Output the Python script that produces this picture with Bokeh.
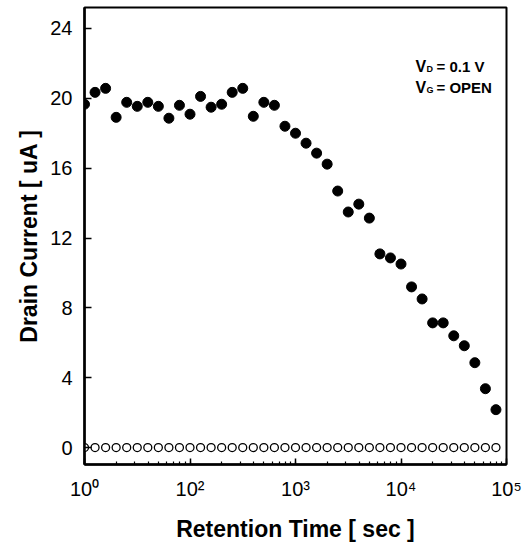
from bokeh.plotting import figure
from bokeh.models import Range1d, FixedTicker, LogTicker, Label
from bokeh.embed import file_html
from bokeh.resources import INLINE

# ---- data ----
retention_time = [10, 12.59, 15.85, 19.95, 25.12, 31.62, 39.81, 50.12, 63.10, 79.43,
                  100, 125.9, 158.5, 199.5, 251.2, 316.2, 398.1, 501.2, 631.0, 794.3,
                  1000, 1259, 1585, 1995, 2512, 3162, 3981, 5012, 6310, 7943,
                  10000, 12590, 15850, 19950, 25120, 31620, 39810, 50120, 63100, 79430]
current_filled = [19.66, 20.34, 20.57, 18.91, 19.77, 19.54, 19.77, 19.54, 18.86, 19.60,
                  19.09, 20.11, 19.49, 19.66, 20.34, 20.57, 18.97, 19.77, 19.60, 18.40,
                  18.00, 17.43, 16.86, 16.23, 14.69, 13.49, 13.94, 13.14, 11.09, 10.86,
                  10.51, 9.20, 8.51, 7.14, 7.14, 6.40, 5.83, 4.86, 3.37, 2.17]
current_open = [0.0, 0.0, 0.0, 0.0, 0.0, 0.0, 0.0, 0.0, 0.0, 0.0,
                0.0, 0.0, 0.0, 0.0, 0.0, 0.0, 0.0, 0.0, 0.0, 0.0,
                0.0, 0.0, 0.0, 0.0, 0.0, 0.0, 0.0, 0.0, 0.0, 0.0,
                0.0, 0.0, 0.0, 0.0, 0.0, 0.0, 0.0, 0.0, 0.0, 0.0]
x_tick_values = [10, 100, 1000, 10000, 100000]
x_tick_labels = ["10\u2070", "10\u00b2", "10\u00b3", "10\u2074", "10\u2075"]
y_tick_values = [0, 4, 8, 12, 16, 20, 24]

FONT = "Liberation Sans"

p = figure(width=522, height=544, x_axis_type="log",
           x_range=Range1d(10, 100000), y_range=Range1d(-0.97, 25.2),
           output_backend="svg", toolbar_location=None,
           min_border_left=84, min_border_right=16, min_border_top=7, min_border_bottom=79)
p.grid.visible = False
p.background_fill_color = "white"
p.border_fill_color = "white"
p.outline_line_color = "black"
p.outline_line_width = 2
p.outline_line_alpha = 1

# x axis
xa = p.xaxis[0]
xa.ticker = LogTicker(num_minor_ticks=10)
xa.axis_line_width = 2.5
xa.major_tick_in = 6
xa.major_tick_out = 0
xa.minor_tick_in = 3
xa.minor_tick_out = 0
xa.major_tick_line_width = 1.5
xa.minor_tick_line_width = 1.2
xa.major_label_overrides = dict(zip(x_tick_values, x_tick_labels))
xa.major_label_text_font = FONT
xa.major_label_text_font_size = "20px"
xa.major_label_text_color = "black"
xa.major_label_standoff = 13
xa.axis_label = "Retention Time [ sec ]"
xa.axis_label_text_font = FONT
xa.axis_label_text_font_style = "bold"
xa.axis_label_text_font_size = "23px"
xa.axis_label_text_color = "black"
xa.axis_label_standoff = 13

# y axis
ya = p.yaxis[0]
ya.ticker = FixedTicker(ticks=y_tick_values, minor_ticks=[])
ya.axis_line_width = 2.5
ya.major_tick_in = 7
ya.major_tick_out = 0
ya.minor_tick_in = 0
ya.minor_tick_out = 0
ya.major_tick_line_width = 1.5
ya.major_label_text_font = FONT
ya.major_label_text_font_size = "20px"
ya.major_label_text_color = "black"
ya.major_label_standoff = 12
ya.axis_label = "Drain Current [ uA ]"
ya.axis_label_text_font = FONT
ya.axis_label_text_font_style = "bold"
ya.axis_label_text_font_size = "23px"
ya.axis_label_text_color = "black"
ya.axis_label_standoff = 5

# data
p.scatter(x=retention_time, y=current_open, size=8, marker="circle",
          fill_color="white", line_color="black", line_width=1.3)
p.scatter(x=retention_time, y=current_filled, size=10, marker="circle",
          fill_color="black", line_color="black")

# annotation
ax0 = 13720
for yy, sub, rest in [(21.83, "D", "= 0.1 V"), (20.63, "G", "=  OPEN")]:
    p.add_layout(Label(x=ax0, y=yy, text="V", text_font=FONT, text_font_style="bold",
                       text_font_size="16px", text_baseline="alphabetic", text_color="black"))
    p.add_layout(Label(x=ax0, y=yy, text=sub, x_offset=11, y_offset=-3, text_font=FONT,
                       text_font_style="bold", text_font_size="9px",
                       text_baseline="alphabetic", text_color="black"))
    p.add_layout(Label(x=ax0, y=yy, text=rest, x_offset=21, text_font=FONT,
                       text_font_style="bold", text_font_size="15px",
                       text_baseline="alphabetic", text_color="black"))

open("out.html", "w").write(file_html(p, INLINE))
